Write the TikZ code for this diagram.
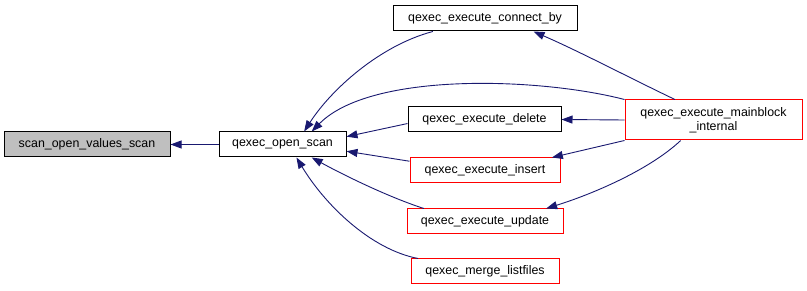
\documentclass[tikz,border=0pt]{standalone}
\usepackage{fontspec}
\setmainfont{Liberation Sans}
\usetikzlibrary{arrows.meta}
\definecolor{edgeblue}{HTML}{191970}
\definecolor{nodegray}{HTML}{BFBFBF}
\begin{document}
\begin{tikzpicture}[x=1pt,y=-1pt]
		\tikzstyle{every node}+=[inner sep=0pt, font=\fontsize{12.4}{14.5}\selectfont]
		\tikzstyle{fn}=[draw=black, line width=1pt, rectangle, minimum height=25pt]
		\tikzstyle{fnred}=[fn, draw=red]
		\tikzstyle{edge}=[draw=edgeblue, line width=0.9pt, -{Triangle[length=11pt,width=8pt]}, fill=none]
		\useasboundingbox (0,0) rectangle (807,291);
		% functions
		\node [fn, fill=nodegray, minimum width=166pt] (values) at (87,144.5) {scan\_open\_values\_scan};
		\node [fn, minimum width=127pt] (openscan) at (282.5,144.5) {qexec\_open\_scan};
		\node [fn, minimum width=184pt] (connectby) at (485,18.5) {qexec\_execute\_connect\_by};
		\node [fn, minimum width=153pt] (delete) at (484.5,119.5) {qexec\_execute\_delete};
		\node [fnred, minimum width=150pt] (insert) at (485,170.5) {qexec\_execute\_insert};
		\node [fnred, minimum width=156pt] (update) at (485,221.5) {qexec\_execute\_update};
		\node [fnred, minimum width=148pt] (merge) at (485,271.5) {qexec\_merge\_listfiles};
		\node [fnred, minimum width=177pt, minimum height=40pt, align=center] (mainblock) at (713.5,120) {qexec\_execute\_mainblock\\\_internal};
		% callers
		\draw [edge] (openscan) -- (values);
		\draw [edge] (connectby.-166) .. controls +(-53,14) and +(27,-42) .. (openscan.31);
		\draw [edge] (mainblock.north west) .. controls +(-85,-22) and +(59,-60) .. (openscan.24);
		\draw [edge] (delete.183) -- (openscan.7);
		\draw [edge] (insert.173) -- (openscan.-6);
		\draw [edge] (update.168) .. controls +(-37,-12) and +(29,16) .. (openscan.-24);
		\draw [edge] (merge.169) .. controls +(-47,-9) and +(29,48) .. (openscan.-43);
		\draw [edge] (mainblock.152) .. controls +(-48,-23) and +(46,20) .. (connectby.-15);
		\draw [edge] (mainblock.west) -- (delete.east);
		\draw [edge] (mainblock.south west) -- (insert.11);
		\draw [edge] (mainblock.-148) .. controls +(-32,30) and +(45,-14) .. (update.12);
	\end{tikzpicture}
\end{document}
